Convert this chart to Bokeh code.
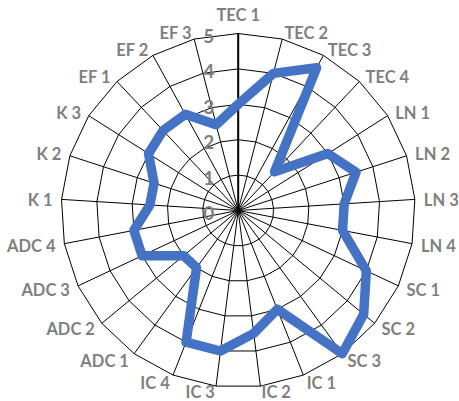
import numpy as np
from bokeh.plotting import figure
from bokeh.models import Range1d, ColumnDataSource
from bokeh.embed import file_html
from bokeh.resources import INLINE
from bokeh.core.properties import value

categories = ["TEC 1", "TEC 2", "TEC 3", "TEC 4", "LN 1", "LN 2", "LN 3", "LN 4",
              "SC 1", "SC 2", "SC 3", "IC 1", "IC 2", "IC 3", "IC 4",
              "ADC 1", "ADC 2", "ADC 3", "ADC 4", "K 1", "K 2", "K 3",
              "EF 1", "EF 2", "EF 3"]
scores = [3.0, 4.0, 4.6, 1.5, 3.0, 3.5, 3.0, 3.0,
          4.0, 4.6, 5.0, 3.0, 3.5, 4.0, 4.0,
          2.0, 2.0, 3.0, 3.0, 2.5, 2.5, 3.0,
          3.1, 3.1, 2.5]
tick_values = [0, 1, 2, 3, 4, 5]
tick_labels = ["0", "1", "2", "3", "4", "5"]

UNIT = 35.4
RMAX = 5 * UNIT
CX, CY = 237.7, 210.0   # centre in figure pixels from top-left
W, H = 459, 401

n = len(categories)
theta = np.arange(n) * 2 * np.pi / n
sin_t, cos_t = np.sin(theta), np.cos(theta)

p = figure(width=W, height=H, output_backend="svg", toolbar_location=None,
           x_axis_type=None, y_axis_type=None,
           x_range=Range1d(-CX, W - CX), y_range=Range1d(CY - H, CY),
           min_border=0, outline_line_color=None)
p.grid.visible = False

# rings
ring_xs, ring_ys = [], []
for k in tick_values[1:]:
    r = k * UNIT
    ring_xs.append(list(np.append(r * sin_t, r * sin_t[0])))
    ring_ys.append(list(np.append(r * cos_t, r * cos_t[0])))
p.multi_line(ring_xs, ring_ys, line_color="black", line_width=1)

# spokes
sp_xs = [[0, RMAX * s] for s in sin_t[1:]]
sp_ys = [[0, RMAX * c] for c in cos_t[1:]]
p.multi_line(sp_xs, sp_ys, line_color="black", line_width=1)
p.line([0, 0], [0, RMAX], line_color="black", line_width=2)

# data
vals = np.array(scores) * UNIT
dx = list(np.append(vals * sin_t, vals[0] * sin_t[0]))
dy = list(np.append(vals * cos_t, vals[0] * cos_t[0]))
p.line(dx, dy, line_color="#4472C4", line_width=9.5, line_join="round", line_cap="round")

# category labels
lx, ly, la = [], [], []
ymin = CY - H + 10
for i in range(n):
    vx, vy = RMAX * sin_t[i], RMAX * cos_t[i]
    if i == 0:
        lx.append(0.0); ly.append(vy + 19); la.append("center")
    else:
        lx.append(vx + 9 * sin_t[i])
        ly.append(max(vy + 7.5 * cos_t[i] - 1, ymin))
        la.append("left" if sin_t[i] > 0 else "right")
src = ColumnDataSource(dict(x=lx, y=ly, t=categories, a=la))
p.text(x="x", y="y", text="t", text_align="a", source=src,
       text_baseline="middle", text_font=value("Lato"), text_font_style="bold",
       text_font_size="16.5px", text_color="#7F7F7F")

# tick labels
tsrc = ColumnDataSource(dict(x=[-24] * len(tick_values),
                             y=[v * UNIT - 2.5 for v in tick_values], t=tick_labels))
p.text(x="x", y="y", text="t", source=tsrc, text_align="right",
       text_baseline="middle", text_font=value("Lato"), text_font_style="bold",
       text_font_size="19px", text_color="#7F7F7F")

open("out.html", "w").write(file_html(p, INLINE))
